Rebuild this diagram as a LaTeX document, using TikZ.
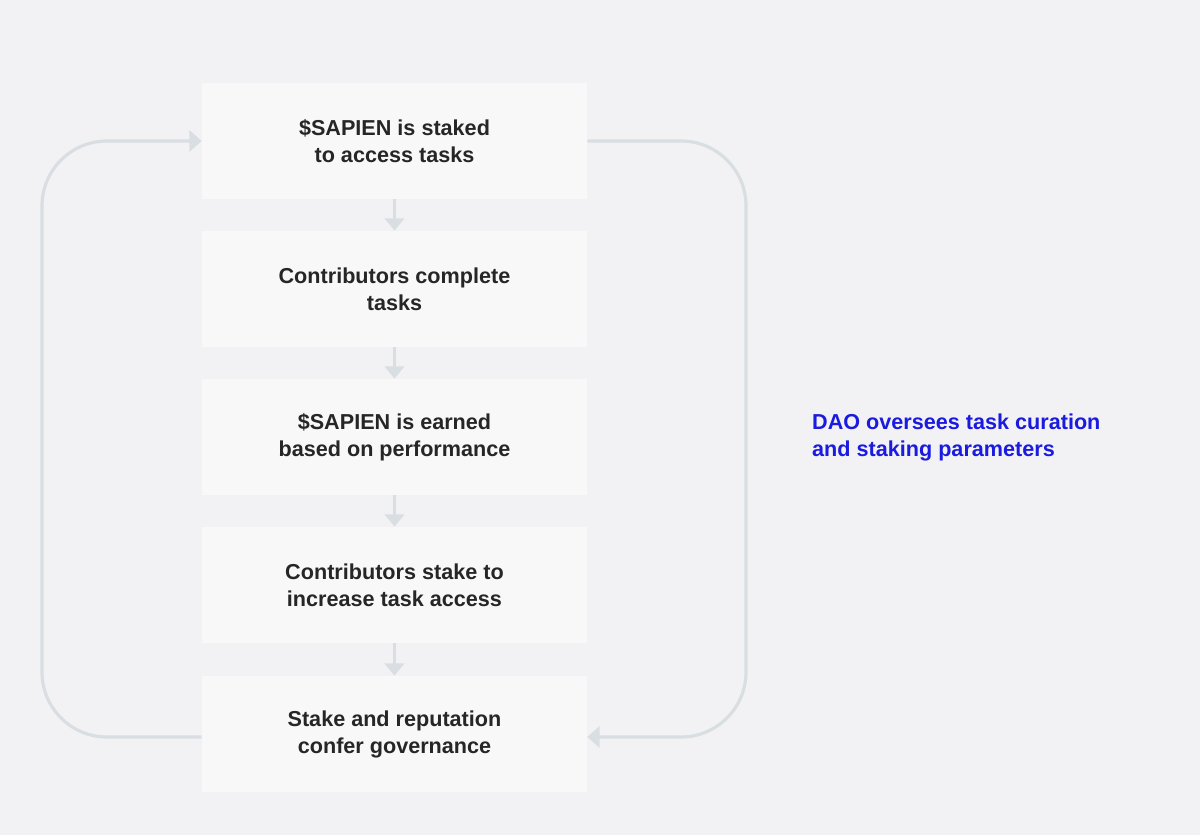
\documentclass[tikz,border=0pt]{standalone}
\usepackage{fontspec}
\setmainfont{Liberation Sans}
\usetikzlibrary{positioning,arrows.meta}
\definecolor{bgcol}{HTML}{F2F2F4}
\definecolor{boxcol}{HTML}{F8F8F8}
\definecolor{arrcol}{HTML}{D9DEE3}
\definecolor{daocol}{HTML}{1A1AE0}
\tikzset{
    stepbox/.style={fill=boxcol, minimum width=7.7cm, minimum height=2.32cm, inner sep=0pt,
        align=center, font=\fontsize{12.3}{15.4}\selectfont\bfseries, text=black!85},
    flow/.style={draw=arrcol, line width=2.2pt, -{Triangle[length=7pt,width=11pt]}},
    loop/.style={draw=arrcol, line width=1.8pt, rounded corners=1.3cm, -{Triangle[length=7pt,width=12pt]}}
}
\begin{document}
\begin{tikzpicture}[x=0.02cm, y=-0.02cm]
    \fill[bgcol] (0,0) rectangle (1200,835);
    \node[stepbox] (stake) at (394.5,141) {\$SAPIEN is staked\\to access tasks};
    \node[stepbox] (complete) at (394.5,289) {Contributors complete\\tasks};
    \node[stepbox] (earn) at (394.5,437) {\$SAPIEN is earned\\based on performance};
    \node[stepbox] (access) at (394.5,585) {Contributors stake to\\increase task access};
    \node[stepbox] (gov) at (394.5,734) {Stake and reputation\\confer governance};
    \node[anchor=west, align=left, text=daocol, font=\fontsize{12.3}{15.4}\selectfont\bfseries] (dao) at (806,437)
        {DAO oversees task curation\\and staking parameters};
    % vertical flow
    \draw[flow] (stake) -- (complete);
    \draw[flow] (complete) -- (earn);
    \draw[flow] (earn) -- (access);
    \draw[flow] (access) -- (gov);
    % outer loops
    \draw[loop] (gov.west |- 0,737) -| (42,141) -- (stake.west);
    \draw[loop] (stake.east) -| (746,737) -- (gov.east |- 0,737);
\end{tikzpicture}
\end{document}
